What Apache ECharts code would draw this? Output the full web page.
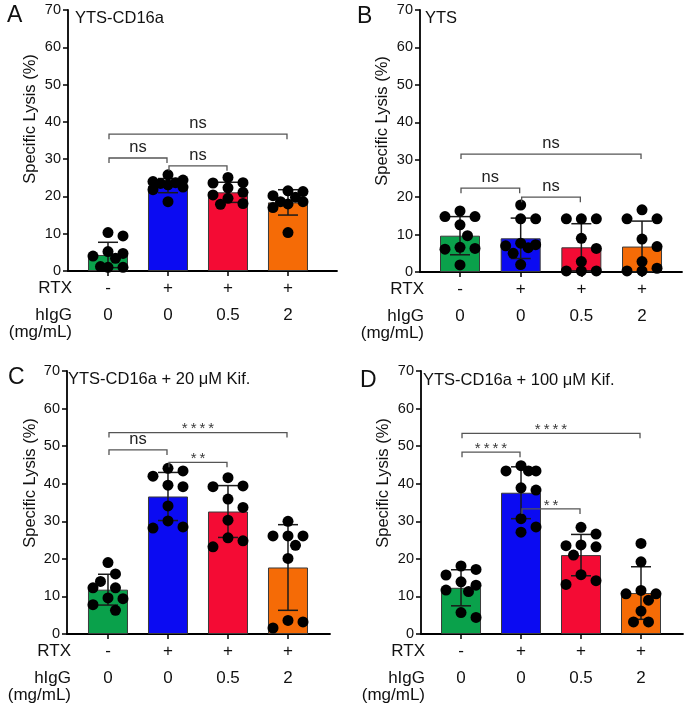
<!DOCTYPE html>
<html>
<head>
<meta charset="utf-8">
<script src="https://cdn.jsdelivr.net/npm/echarts@6/dist/echarts.min.js"></script>
<style>
  html, body { margin: 0; padding: 0; background: #fff; }
  #chart { width: 685px; height: 706px; }
</style>
</head>
<body>
<div id="chart"></div>
<script>
// ---------------- DATA ----------------
const rtxLabels = ['-', '+', '+', '+'];
const hIgGLabels = ['0', '0', '0.5', '2'];
const yAxisName = 'Specific Lysis (%)';
const panelLetters = ['A', 'B', 'C', 'D'];
const panelTitles = ['YTS-CD16a', 'YTS', 'YTS-CD16a + 20 \u03bcM Kif.', 'YTS-CD16a + 100 \u03bcM Kif.'];

// Panel A
const aMeans = [4.3, 22.9, 21.1, 18.4];
const aSD = [3.4, 1.9, 2.7, 3.4];
const aGreen = [10.3, 9.4, 5.2, 4.7, 4.0, 3.4, 1.2, 1.0, 1.0];
const aBlue = [25.8, 24.4, 24.0, 23.7, 23.5, 23.1, 22.5, 21.8, 18.6];
const aRed = [25.1, 23.7, 23.6, 22.3, 21.1, 20.4, 19.5, 18.1, 17.9];
const aOrange = [21.5, 21.3, 20.2, 19.8, 18.6, 18.6, 18.0, 17.0, 10.3];
const aBrackets = [[1, 4, 36.7], [1, 2, 30.3], [2, 3, 28.2]];
const aBracketText = ['ns', 'ns', 'ns'];

// Panel B
const bMeans = [9.7, 9.0, 6.6, 6.8];
const bSD = [5.1, 5.4, 6.3, 6.8];
const bGreen = [16.3, 14.8, 14.8, 12.6, 9.7, 6.6, 6.3, 6.1, 1.9];
const bBlue = [17.9, 14.2, 14.2, 7.7, 7.3, 7.0, 6.5, 5.0, 2.0];
const bRed = [14.2, 14.2, 14.2, 9.0, 6.3, 2.8, 0.3, 0.3, 0.3];
const bOrange = [16.6, 14.2, 14.2, 8.8, 6.8, 2.8, 1.0, 0.3, 0.3];
const bBrackets = [[1, 4, 31.5], [1, 2, 22.4], [2, 3, 20.0]];
const bBracketText = ['ns', 'ns', 'ns'];

// Panel C
const cMeans = [11.8, 36.6, 32.6, 17.7];
const cSD = [4.1, 6.4, 6.9, 11.4];
const cGreen = [19.0, 16.0, 14.0, 12.3, 12.3, 9.6, 9.4, 7.8, 6.3];
const cBlue = [44.1, 43.4, 42.0, 39.6, 39.2, 34.1, 30.1, 28.5, 28.2];
const cRed = [41.6, 39.4, 39.2, 35.9, 33.7, 30.3, 25.6, 24.8, 23.2];
const cOrange = [30.0, 26.1, 26.1, 26.1, 23.6, 20.1, 3.6, 3.2, 1.6];
const cBrackets = [[1, 4, 53.6], [1, 2, 49.0], [2, 3, 45.7]];
const cBracketText = ['****', 'ns', '**'];

// Panel D
const dMeans = [12.3, 37.6, 21.0, 10.9];
const dSD = [4.8, 6.9, 5.5, 7.0];
const dGreen = [18.1, 17.2, 15.7, 13.9, 13.0, 11.7, 11.3, 5.7, 4.4];
const dBlue = [44.8, 43.4, 43.4, 43.4, 38.9, 38.3, 30.7, 28.5, 27.1];
const dRed = [28.4, 26.6, 23.7, 23.5, 23.2, 21.0, 15.8, 14.2, 13.2];
const dOrange = [24.1, 19.2, 11.6, 10.7, 10.7, 9.0, 6.1, 3.2, 3.2];
const dBrackets = [[1, 4, 53.4], [1, 2, 48.4], [2, 3, 33.3]];
const dBracketText = ['****', '****', '**'];

// ---------------- STYLE / LAYOUT ----------------
const FONT = '"Liberation Sans", Arial, Helvetica, sans-serif';
const barColors = ['#0aa14b', '#0b0bf2', '#f40b34', '#f56b06'];
const layouts = [
  { left: 68, top: 10, width: 269, height: 261, xmin: 0.3333, xmax: 4.817, xpu: 60 },
  { left: 420, top: 10, width: 262, height: 262, xmin: 0.3407, xmax: 4.659, xpu: 60.67 },
  { left: 67, top: 371, width: 263, height: 263, xmin: 0.317, xmax: 4.70, xpu: 60 },
  { left: 421, top: 371, width: 262, height: 263, xmin: 0.333, xmax: 4.70, xpu: 60 }
];
const yNamePos = [[30, 119], [382, 121], [30, 483], [383, 483]];
const letterPos = [[7, 16], [357, 17], [8, 378], [360, 381]];
const titlePos = [[75, 18], [425, 18], [68, 379], [423, 380]];

const panels = [
  { means: aMeans, sd: aSD, pts: [aGreen, aBlue, aRed, aOrange], br: aBrackets, brText: aBracketText },
  { means: bMeans, sd: bSD, pts: [bGreen, bBlue, bRed, bOrange], br: bBrackets, brText: bBracketText },
  { means: cMeans, sd: cSD, pts: [cGreen, cBlue, cRed, cOrange], br: cBrackets, brText: cBracketText },
  { means: dMeans, sd: dSD, pts: [dGreen, dBlue, dRed, dOrange], br: dBrackets, brText: dBracketText }
];

// compact beeswarm (GraphPad-like rows, limited width): offsets in x-axis units
function swarm(vals, ypu, xpu) {
  const D = 13;
  const cands = [0, 7.5, -7.5, 15, -15];
  const order = vals.map((v, i) => i).sort((a, b) => vals[b] - vals[a]);
  const placed = [];
  const off = new Array(vals.length).fill(0);
  for (const i of order) {
    const y = vals[i] * ypu;
    let chosen = null, best = -1, bestC = 0;
    for (const c of cands) {
      let md = Infinity;
      placed.forEach(p => { md = Math.min(md, Math.hypot(p.x - c, p.y - y)); });
      if (md >= D) { chosen = c; break; }
      if (md > best) { best = md; bestC = c; }
    }
    if (chosen === null) chosen = bestC;
    placed.push({ x: chosen, y: y });
    off[i] = chosen / xpu;
  }
  return off;
}

const grids = [], xAxes = [], yAxes = [], series = [], graphics = [];

layouts.forEach((L, pi) => {
  grids.push({ left: L.left, top: L.top, width: L.width, height: L.height });
  xAxes.push({
    gridIndex: pi, type: 'value', min: L.xmin, max: L.xmax,
    splitLine: { show: false },
    axisLine: { show: true, onZero: false, lineStyle: { color: '#000', width: 1.8 } },
    axisTick: { show: true, customValues: [1, 2, 3, 4], length: 5, lineStyle: { color: '#000', width: 1.5 } },
    axisLabel: {
      show: true, customValues: [1, 2, 3, 4],
      formatter: v => { const i = Math.round(v) - 1; return rtxLabels[i] + '\n' + hIgGLabels[i]; },
      fontSize: 17, lineHeight: 27, margin: 4, color: '#111', fontFamily: FONT
    }
  });
  yAxes.push({
    gridIndex: pi, type: 'value', min: 0, max: 70, interval: 10,
    splitLine: { show: false },
    axisLine: { show: true, lineStyle: { color: '#000', width: 1.8 } },
    axisTick: { show: true, length: 5, lineStyle: { color: '#000', width: 1.5 } },
    axisLabel: { fontSize: 14.5, margin: 7, color: '#111', fontFamily: FONT }
  });

  const P = panels[pi];
  const ypu = L.height / 70;

  series.push({
    type: 'bar', xAxisIndex: pi, yAxisIndex: pi, barWidth: 40, z: 2,
    data: P.means.map((m, j) => ({ value: [j + 1, m], itemStyle: { color: barColors[j] } })),
    itemStyle: { borderColor: '#3a3a3a', borderWidth: 1 }
  });

  series.push({
    type: 'custom', xAxisIndex: pi, yAxisIndex: pi, z: 3,
    data: P.means.map((m, j) => [j + 1, m, P.sd[j]]),
    encode: { x: 0, y: 1 },
    renderItem: (params, api) => {
      const x = api.value(0), m = api.value(1), s = api.value(2);
      const t = api.coord([x, m + s]);
      const b = api.coord([x, Math.max(0, m - s)]);
      const hw = 10, st = { stroke: '#1a1a1a', lineWidth: 1.5 };
      return {
        type: 'group', children: [
          { type: 'line', shape: { x1: t[0], y1: t[1], x2: b[0], y2: b[1] }, style: st },
          { type: 'line', shape: { x1: t[0] - hw, y1: t[1], x2: t[0] + hw, y2: t[1] }, style: st },
          { type: 'line', shape: { x1: b[0] - hw, y1: b[1], x2: b[0] + hw, y2: b[1] }, style: st }
        ]
      };
    }
  });

  const pts = [];
  P.pts.forEach((arr, j) => {
    const off = swarm(arr, ypu, L.xpu);
    arr.forEach((v, k) => pts.push([j + 1 + off[k], v]));
  });
  series.push({
    type: 'scatter', xAxisIndex: pi, yAxisIndex: pi, z: 4,
    symbol: 'circle', symbolSize: 11, itemStyle: { color: '#000', opacity: 1 },
    data: pts, silent: true
  });

  series.push({
    type: 'custom', xAxisIndex: pi, yAxisIndex: pi, z: 5,
    data: P.br.map(b => [b[0], b[1], b[2]]),
    encode: { x: [0, 1], y: 2 },
    renderItem: (params, api) => {
      const p1 = api.coord([api.value(0), api.value(2)]);
      const p2 = api.coord([api.value(1), api.value(2)]);
      const txt = P.brText[params.dataIndex];
      const stars = txt.indexOf('*') >= 0;
      const x1 = p1[0] + 1, x2 = p2[0] - 1, y = p1[1];
      return {
        type: 'group', children: [
          { type: 'polyline', shape: { points: [[x1, y + 5], [x1, y], [x2, y], [x2, y + 5]] },
            style: { stroke: '#555', lineWidth: 1.3, fill: null } },
          { type: 'text', x: (x1 + x2) / 2, y: stars ? y + 4 : y - 2,
            style: {
              text: stars ? txt.split('').join('\u2009') : txt,
              align: 'center', verticalAlign: 'bottom',
              fontSize: stars ? 15 : 16.5, fontFamily: FONT,
              fill: stars ? '#3a3a3a' : '#222'
            } }
        ]
      };
    }
  });

  // texts
  graphics.push({
    type: 'text', x: letterPos[pi][0], y: letterPos[pi][1],
    style: { text: panelLetters[pi], fontSize: 23, fontFamily: FONT, fill: '#111', align: 'left', verticalAlign: 'middle' }
  });
  graphics.push({
    type: 'text', x: titlePos[pi][0], y: titlePos[pi][1],
    style: { text: panelTitles[pi], fontSize: 16.5, fontFamily: FONT, fill: '#111', align: 'left', verticalAlign: 'middle' }
  });
  graphics.push({
    type: 'text', x: yNamePos[pi][0], y: yNamePos[pi][1], rotation: Math.PI / 2,
    style: { text: yAxisName, fontSize: 16.5, fontFamily: FONT, fill: '#111', align: 'center', verticalAlign: 'middle' }
  });
  const base = L.top + L.height;
  const rx = L.left + 4;
  [['RTX', 17.5], ['hIgG', 44.5], ['(mg/mL)', 61.5]].forEach(([t, dy]) => {
    graphics.push({
      type: 'text', x: rx, y: base + dy,
      style: { text: t, fontSize: 17, fontFamily: FONT, fill: '#111', align: 'right', verticalAlign: 'middle' }
    });
  });
});

const chart = echarts.init(document.getElementById('chart'), null, { renderer: 'canvas' });
chart.setOption({
  animation: false,
  backgroundColor: '#fff',
  grid: grids,
  xAxis: xAxes,
  yAxis: yAxes,
  series: series,
  graphic: graphics
});
</script>
</body>
</html>
